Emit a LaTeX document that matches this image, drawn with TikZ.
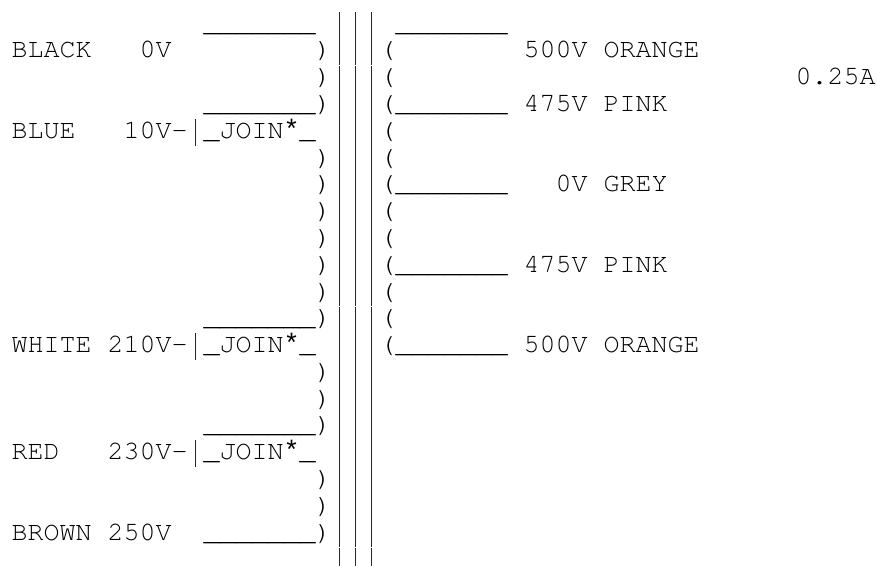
\documentclass[tikz,border=0pt]{standalone}
\usepackage[T1,TU]{fontenc}
\usepackage{fontspec}
\newfontfamily\libmono{Liberation Mono}
\ExplSyntaxOn
\NewDocumentCommand\blanks{m}{\prg_replicate:nn{#1}{\nobreakspace}}
\ExplSyntaxOff
\newcommand\usev{\_\_\_\_\_\_\_}
\newcommand\vbar{\makebox[0.6em]{{\color{black!85}\rule[-0.28em]{1.4bp}{1em}}}}
\newcommand\bars{\vbar\vbar\vbar}
\newcommand\starglyph{\makebox[0.6em]{\libmono *}}
\newcommand\join{\_JOIN\starglyph\_}
\newcommand\rowy[1]{-(31.2bp+#1*26.78bp)}
\newcommand\asciifont{\fontencoding{T1}\fontfamily{pcr}\fontseries{m}\fontshape{n}\fontsize{26.67bp}{26.8bp}\selectfont\frenchspacing}
\tikzset{asciirow/.style={anchor=base west, inner sep=0pt, outer sep=0pt, font=\asciifont}}
\begin{document}
\begin{tikzpicture}
\useasboundingbox (0,0) rectangle (877bp,-566bp);
\node[asciirow] (r0)  at (11.5bp,{\rowy{0}})  {\blanks{12}\usev\blanks{1}\bars\blanks{1}\usev};
\node[asciirow] (r1)  at (11.5bp,{\rowy{1}})  {BLACK\blanks{3}0V\blanks{9})\bars(\blanks{8}500V\blanks{1}ORANGE};
\node[asciirow] (r2)  at (11.5bp,{\rowy{2}})  {\blanks{19})\bars(\blanks{25}0.25A};
\node[asciirow] (r3)  at (11.5bp,{\rowy{3}})  {\blanks{12}\usev)\bars(\usev\blanks{1}475V\blanks{1}PINK};
\node[asciirow] (r4)  at (11.5bp,{\rowy{4}})  {BLUE\blanks{3}10V-\vbar\join\blanks{1}\bars(};
\node[asciirow] (r5)  at (11.5bp,{\rowy{5}})  {\blanks{19})\bars(};
\node[asciirow] (r6)  at (11.5bp,{\rowy{6}})  {\blanks{19})\bars(\usev\blanks{3}0V\blanks{1}GREY};
\node[asciirow] (r7)  at (11.5bp,{\rowy{7}})  {\blanks{19})\bars(};
\node[asciirow] (r8)  at (11.5bp,{\rowy{8}})  {\blanks{19})\bars(};
\node[asciirow] (r9)  at (11.5bp,{\rowy{9}})  {\blanks{19})\bars(\usev\blanks{1}475V\blanks{1}PINK};
\node[asciirow] (r10) at (11.5bp,{\rowy{10}}) {\blanks{19})\bars(};
\node[asciirow] (r11) at (11.5bp,{\rowy{11}}) {\blanks{12}\usev)\bars(};
\node[asciirow] (r12) at (11.5bp,{\rowy{12}}) {WHITE\blanks{1}210V-\vbar\join\blanks{1}\bars(\usev\blanks{1}500V\blanks{1}ORANGE};
\node[asciirow] (r13) at (11.5bp,{\rowy{13}}) {\blanks{19})\bars};
\node[asciirow] (r14) at (11.5bp,{\rowy{14}}) {\blanks{19})\bars};
\node[asciirow] (r15) at (11.5bp,{\rowy{15}}) {\blanks{12}\usev)\bars};
\node[asciirow] (r16) at (11.5bp,{\rowy{16}}) {RED\blanks{3}230V-\vbar\join\blanks{1}\bars};
\node[asciirow] (r17) at (11.5bp,{\rowy{17}}) {\blanks{19})\bars};
\node[asciirow] (r18) at (11.5bp,{\rowy{18}}) {\blanks{19})\bars};
\node[asciirow] (r19) at (11.5bp,{\rowy{19}}) {BROWN\blanks{1}250V\blanks{2}\usev)\bars};
\node[asciirow] (r20) at (11.5bp,{\rowy{20}}) {\blanks{20}\bars};
\end{tikzpicture}
\end{document}
